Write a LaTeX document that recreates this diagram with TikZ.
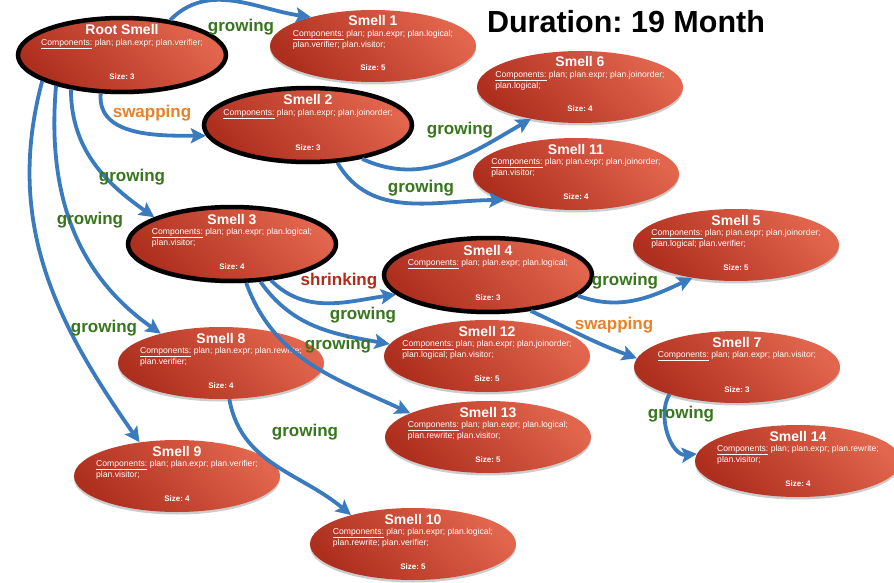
\documentclass[tikz,border=0pt]{standalone}
\usepackage{fontspec}
\setmainfont{Liberation Sans}
\usetikzlibrary{shapes.geometric,arrows.meta,shadows}
\frenchspacing

\definecolor{flowblue}{HTML}{3A7BC0}
\definecolor{growgreen}{HTML}{38761D}
\definecolor{swaporange}{HTML}{E8822A}
\definecolor{shrinkred}{HTML}{B22A1A}
\definecolor{reddark}{HTML}{AE2F1E}
\definecolor{redlight}{HTML}{E2654D}

\tikzset{
  smell/.style={ellipse, minimum width=206pt, minimum height=72pt, inner sep=0pt,
    top color=redlight, bottom color=reddark, shading angle=-45,
    drop shadow={shadow xshift=0pt, shadow yshift=-2.5pt, opacity=.2, fill=black}},
  keysmell/.style={draw=black, line width=4.5pt, minimum width=208pt, minimum height=74pt},
  ttl/.style={text=white, font=\fontsize{14}{16}\selectfont\bfseries, inner sep=0pt, anchor=base},
  cmp/.style={text=white, font=\fontsize{8.6}{9}\selectfont, align=left, inner sep=0pt, anchor=north},
  sz/.style={text=white, font=\fontsize{8}{9}\selectfont\bfseries, inner sep=0pt, anchor=base},
  flow/.style={draw=flowblue, line width=3.8pt, -{Stealth[length=15pt,width=15pt,inset=3pt]}},
  lbl/.style={font=\fontsize{17}{19}\selectfont\bfseries, inner sep=1pt},
  growlbl/.style={lbl, text=growgreen},
  swaplbl/.style={lbl, text=swaporange},
  shrinklbl/.style={lbl, text=shrinkred}
}

% name, x, y, extra style, title, components, size
\newcommand\smellnode[7]{%
  \node[smell,#4] (#1) at (#2,#3) {};
  \node[ttl] (#1-title) at (#2,#3-20) {#5};
  \node[cmp] (#1-comp) at (#2,#3-16) {\underline{Components:} #6};
  \node[sz] (#1-size) at (#2,#3+25) {Size: #7};
}

\begin{document}
\begin{tikzpicture}[x=1pt,y=-1pt]
\fill[white] (0,0) rectangle (894,583);
\useasboundingbox (0,0) rectangle (894,583);

\node[font=\fontsize{30.5}{34}\selectfont\bfseries, anchor=base, inner sep=0pt] (heading) at (626,33) {Duration: 19 Month};

\smellnode{root}{122}{55}{keysmell}{Root Smell}{plan; plan.expr; plan.verifier;}{3}
\smellnode{s1}{373}{46}{}{Smell 1}{plan; plan.expr; plan.logical;\\plan.verifier; plan.visitor;}{5}
\smellnode{s6}{580}{87}{}{Smell 6}{plan; plan.expr; plan.joinorder;\\plan.logical;}{4}
\smellnode{s2}{308}{125}{keysmell}{Smell 2}{plan; plan.expr; plan.joinorder;}{3}
\smellnode{s11}{576}{174}{}{Smell 11}{plan; plan.expr; plan.joinorder;\\plan.visitor;}{4}
\smellnode{s3}{232}{244}{keysmell}{Smell 3}{plan; plan.expr; plan.logical;\\plan.visitor;}{4}
\smellnode{s5}{736}{245}{}{Smell 5}{plan; plan.expr; plan.joinorder;\\plan.logical; plan.verifier;}{5}
\smellnode{s4}{488}{275}{keysmell}{Smell 4}{plan; plan.expr; plan.logical;}{3}
\smellnode{s12}{487}{356}{}{Smell 12}{plan; plan.expr; plan.joinorder;\\plan.logical; plan.visitor;}{5}
\smellnode{s7}{737}{367}{}{Smell 7}{plan; plan.expr; plan.visitor;}{3}
\smellnode{s8}{221}{363}{}{Smell 8}{plan; plan.expr; plan.rewrite;\\plan.verifier;}{4}
\smellnode{s13}{488}{437}{}{Smell 13}{plan; plan.expr; plan.logical;\\plan.rewrite; plan.visitor;}{5}
\smellnode{s14}{798}{461}{}{Smell 14}{plan; plan.expr; plan.rewrite;\\plan.visitor;}{4}
\smellnode{s9}{177}{476}{}{Smell 9}{plan; plan.expr; plan.verifier;\\plan.visitor;}{4}
\smellnode{s10}{413}{544}{}{Smell 10}{plan; plan.expr; plan.logical;\\plan.rewrite; plan.verifier;}{5}

% transitions
\draw[flow] (root.36)  to[out=45,in=172]   (s1.155);
\draw[flow] (root.241) to[out=-95,in=180]  (s2.186);
\draw[flow] (root.214) to[out=-90,in=145]  (s3.161);
\draw[flow] (root.205) to[out=-95,in=145]  (s8.154);
\draw[flow] (root.198) to[out=-105,in=125] (s9.138);
\draw[flow] (s2.328)   to[out=-25,in=210]  (s6.213);
\draw[flow] (s2.308)   to[out=-60,in=180]  (s11.200);
\draw[flow] (s3.317)   to[out=-45,in=188]  (s4.192);
\draw[flow] (s3.307)   to[out=-55,in=170]  (s12.173);
\draw[flow] (s3.290)   to[out=-70,in=155]  (s13.163);
\draw[flow] (s4.347)   to[out=-20,in=205]  (s5.217);
\draw[flow] (s4.320)   to[out=-25,in=160]  (s7.175);
\draw[flow] (s8.283)   to[out=-80,in=140]  (s10.155);
\draw[flow] (s7.202)   to[out=-120,in=185] (s14.176);

% transition labels
\node[growlbl]   (l1)  at (241,27)  {growing};
\node[swaplbl]   (l2)  at (152,113) {swapping};
\node[growlbl]   (l3)  at (132,177) {growing};
\node[growlbl]   (l4)  at (90,220)  {growing};
\node[growlbl]   (l5)  at (104,328) {growing};
\node[growlbl]   (l6)  at (460,130) {growing};
\node[growlbl]   (l7)  at (421,188) {growing};
\node[shrinklbl] (l8)  at (339,281) {shrinking};
\node[growlbl]   (l9)  at (363,315) {growing};
\node[growlbl]   (l10) at (338,345) {growing};
\node[growlbl]   (l11) at (625,281) {growing};
\node[swaplbl]   (l12) at (614,325) {swapping};
\node[growlbl]   (l13) at (305,432) {growing};
\node[growlbl]   (l14) at (681,414) {growing};
\end{tikzpicture}
\end{document}
